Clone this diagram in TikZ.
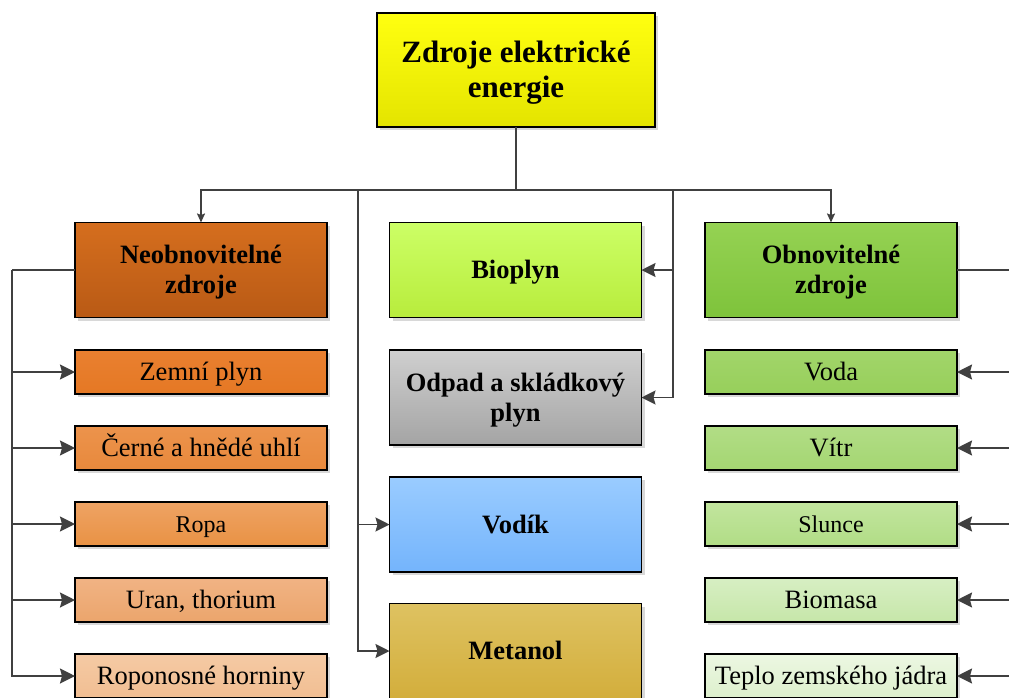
\documentclass[tikz,border=0pt]{standalone}
\usepackage{fontspec}
\setmainfont{Liberation Serif}
\usetikzlibrary{arrows.meta,shadows}
\definecolor{linegray}{HTML}{404040}
% fill gradients: <name>T (top) and <name>B (bottom)
\definecolor{rootT}{HTML}{FFFF10}\definecolor{rootB}{HTML}{E4E400}
\definecolor{neoT}{HTML}{D56E1E}\definecolor{neoB}{HTML}{B95A15}
\definecolor{obnT}{HTML}{95D253}\definecolor{obnB}{HTML}{7EC33B}
\definecolor{bioT}{HTML}{CCFF66}\definecolor{bioB}{HTML}{B8EC3C}
\definecolor{odpT}{HTML}{CFCFCF}\definecolor{odpB}{HTML}{A4A4A4}
\definecolor{vodT}{HTML}{9ACCFF}\definecolor{vodB}{HTML}{74B4FC}
\definecolor{metT}{HTML}{DEC261}\definecolor{metB}{HTML}{D3AE3C}
\definecolor{naT}{HTML}{E98030}\definecolor{naB}{HTML}{E57824}
\definecolor{nbT}{HTML}{EC934C}\definecolor{nbB}{HTML}{E8893C}
\definecolor{ncT}{HTML}{EEA364}\definecolor{ncB}{HTML}{E99244}
\definecolor{ndT}{HTML}{F1B384}\definecolor{ndB}{HTML}{EBA56C}
\definecolor{neT}{HTML}{F5CAA4}\definecolor{neB}{HTML}{F1BE92}
\definecolor{raT}{HTML}{A2D56A}\definecolor{raB}{HTML}{97CF5B}
\definecolor{rbT}{HTML}{B2DD86}\definecolor{rbB}{HTML}{A4D672}
\definecolor{rcT}{HTML}{C2E59E}\definecolor{rcB}{HTML}{B1DD86}
\definecolor{rdT}{HTML}{D7EFC3}\definecolor{rdB}{HTML}{C6E6A9}
\definecolor{reT}{HTML}{ECF7E2}\definecolor{reB}{HTML}{DDF0CC}
% line strut: full ascent/descent of the font, so lines centre by their line box
\newcommand\lstrut{\rule[-0.216em]{0pt}{1.107em}}
\begin{document}
\begin{tikzpicture}[x=1pt,y=-1pt,
  box/.style={draw=black, line width=1.8pt, align=center, inner sep=0pt, outer sep=0pt,
    drop shadow={shadow xshift=3pt, shadow yshift=-3pt, fill=black!30, opacity=0.5}},
  bigbox/.style={box, minimum width=252pt, minimum height=95pt,
    font=\fontsize{26.5}{30}\selectfont\bfseries},
  smallbox/.style={box, minimum width=252pt, minimum height=44pt,
    font=\fontsize{26.5}{30}\selectfont},
  grad/.style={top color=#1T, bottom color=#1B},
  feed/.style={draw=linegray, line width=1.6pt},
  branch/.style={draw=linegray, line width=2pt},
  tipbig/.style={-{Stealth[length=15pt,width=15pt,inset=2pt]}},
  tipmid/.style={-{Stealth[length=14pt,width=14pt,inset=2pt]}},
  tipsmall/.style={-{Stealth[length=9pt,width=8pt,inset=1.5pt]}},
]
\useasboundingbox (0,0) rectangle (1009,697);
\clip (0,0) rectangle (1009,697);

% root
\node[box, grad=root, minimum width=278pt, minimum height=114pt,
  font=\fontsize{31}{35}\selectfont\bfseries] (root) at (516,70)
  {\lstrut Zdroje elektrické\\\lstrut energie};

% main categories
\node[bigbox, grad=neo] (neo) at (201,270) {\lstrut Neobnovitelné\\\lstrut zdroje};
\node[bigbox, grad=obn] (obn) at (831,270) {\lstrut Obnovitelné\\\lstrut zdroje};
\node[bigbox, grad=bio] (bio) at (515.5,270) {\lstrut Bioplyn};
\node[bigbox, grad=odp] (odpad) at (515.5,397.5) {\lstrut Odpad a skládkový\\\lstrut plyn};
\node[bigbox, grad=vod] (vodik) at (515.5,524.5) {\lstrut Vodík};
\node[bigbox, grad=met] (metanol) at (515.5,651) {\lstrut Metanol};

% non-renewable sources
\node[smallbox, grad=na] (n1) at (201,372) {\lstrut Zemní plyn};
\node[smallbox, grad=nb] (n2) at (201,448) {\lstrut Černé a hnědé uhlí};
\node[smallbox, grad=nc, font=\fontsize{24}{28}\selectfont] (n3) at (201,524) {\lstrut Ropa};
\node[smallbox, grad=nd] (n4) at (201,600) {\lstrut Uran, thorium};
\node[smallbox, grad=ne] (n5) at (201,676) {\lstrut Roponosné horniny};

% renewable sources
\node[smallbox, grad=ra] (r1) at (831,372) {\lstrut Voda};
\node[smallbox, grad=rb] (r2) at (831,448) {\lstrut Vítr};
\node[smallbox, grad=rc, font=\fontsize{24}{28}\selectfont] (r3) at (831,524) {\lstrut Slunce};
\node[smallbox, grad=rd] (r4) at (831,600) {\lstrut Biomasa};
\node[smallbox, grad=re] (r5) at (831,676) {\lstrut Teplo zemského jádra};

% distribution from the root
\coordinate (hub) at (516,190);
\coordinate (lbus) at (358,190);
\coordinate (rbus) at (673,190);
\draw[feed] (root.south) -- (hub);
\draw[feed, tipsmall] (hub) -| (neo.north);
\draw[feed, tipsmall] (hub) -| (obn.north);
\draw[feed, tipmid] (lbus) |- (vodik.west);
\draw[feed, tipmid] (lbus) |- (metanol.west);
\draw[feed, tipmid] (rbus) |- (bio.east);
\draw[feed, tipmid] (rbus) |- (odpad.east);

% non-renewable tree
\coordinate (lspine) at (12,270);
\draw[branch] (neo.west) -- (lspine);
\foreach \n in {n1,n2,n3,n4,n5}
  \draw[branch, tipbig] (lspine) |- (\n.west);

% renewable tree
\coordinate (rspine) at (1030,270);
\draw[branch] (obn.east) -- (rspine);
\foreach \n in {r1,r2,r3,r4,r5}
  \draw[branch, tipbig] (rspine) |- (\n.east);
\end{tikzpicture}
\end{document}
